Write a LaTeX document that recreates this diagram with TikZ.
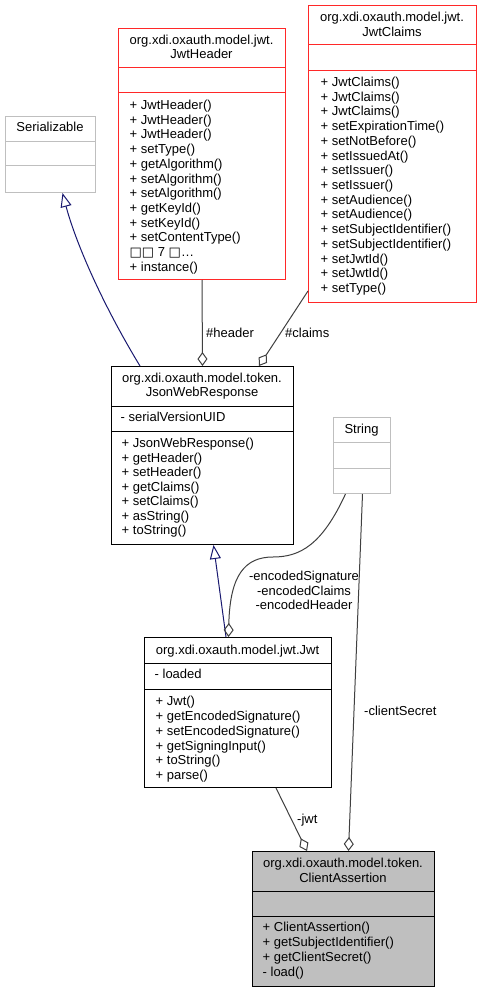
\documentclass[tikz,border=0pt]{standalone}
\usepackage{fontspec}
\setmainfont{Liberation Sans}
\newfontfamily\djv{DejaVu Sans}
\usetikzlibrary{arrows.meta}
\definecolor{redc}{RGB}{255,40,40}
\definecolor{greyc}{RGB}{191,191,191}
\definecolor{navyc}{RGB}{25,25,112}
\definecolor{edgec}{RGB}{64,64,64}
\definecolor{fillc}{RGB}{191,191,191}
\newcommand\fs{\fontsize{13}{15}\selectfont}
\newcommand\hsep[3]{\draw[#3, line width=1pt] ([yshift=-#2pt]#1.north west) -- ([yshift=-#2pt]#1.north east);}
\begin{document}
\begin{tikzpicture}[x=1pt,y=-1pt,
  box/.style={draw, line width=1pt, inner sep=0pt, anchor=north west, fill=white},
  txt/.style={inner sep=0pt, font=\fs, anchor=base west},
  ttl/.style={inner sep=0pt, font=\fs, anchor=base},
  lbl/.style={inner sep=0pt, font=\fs, anchor=base west},
  clbl/.style={inner sep=0pt, font=\fs, anchor=base},
  inh/.style={draw=navyc, line width=1pt, -{Triangle[open, length=14pt, width=11pt]}},
  agg/.style={draw=edgec, line width=1pt, -{Diamond[open, length=14pt, width=10pt]}}]
\useasboundingbox[fill=white] (0,0) rectangle (481,992);

% class boxes
\node[box, draw=redc, minimum width=167pt, minimum height=251pt] (jh) at (118,28) {};
\node[box, draw=redc, minimum width=168pt, minimum height=297pt] (jc) at (308,5) {};
\node[box, draw=greyc, minimum width=90pt, minimum height=76pt] (ser) at (5,116) {};
\node[box, draw=black, minimum width=182pt, minimum height=178pt] (jwr) at (111,366) {};
\node[box, draw=greyc, minimum width=57pt, minimum height=76pt] (str) at (333,417) {};
\node[box, draw=black, minimum width=187pt, minimum height=150pt] (jwt) at (144,637) {};
\node[box, draw=black, fill=fillc, minimum width=182pt, minimum height=135pt] (ca) at (252,851) {};

% separators
\hsep{jh}{40}{redc}\hsep{jh}{65}{redc}
\hsep{jc}{40}{redc}\hsep{jc}{66}{redc}
\hsep{ser}{25.5}{greyc}\hsep{ser}{50}{greyc}
\hsep{jwr}{40}{black}\hsep{jwr}{65}{black}
\hsep{str}{25}{greyc}\hsep{str}{51}{greyc}
\hsep{jwt}{26}{black}\hsep{jwt}{52}{black}
\hsep{ca}{40}{black}\hsep{ca}{65}{black}

% titles
\node[ttl] (jh-t1) at (201.5,44.6) {org.xdi.oxauth.model.jwt.};
\node[ttl] (jh-t2) at (201.5,58.6) {JwtHeader};
\node[ttl] (jc-t1) at (392,21.6) {org.xdi.oxauth.model.jwt.};
\node[ttl] (jc-t2) at (392,36.6) {JwtClaims};
\node[ttl] (ser-t) at (50,131.6) {Serializable};
\node[ttl] (str-t) at (361.5,433.6) {String};
\node[ttl] (jwr-t1) at (202,382.6) {org.xdi.oxauth.model.token.};
\node[ttl] (jwr-t2) at (202,396.6) {JsonWebResponse};
\node[ttl] (jwt-t) at (237.5,654.6) {org.xdi.oxauth.model.jwt.Jwt};
\node[ttl] (ca-t1) at (343,867.6) {org.xdi.oxauth.model.token.};
\node[ttl] (ca-t2) at (343,882.6) {ClientAssertion};

% attributes
\node[txt] (jwr-a) at (120.5,421.6) {- serialVersionUID};
\node[txt] (jwt-a) at (154.5,678.6) {- loaded};

% members
\foreach [count=\i from 0] \t in {+ JwtHeader(), + JwtHeader(), + JwtHeader(), + setType(), + getAlgorithm(), + setAlgorithm(), + setAlgorithm(), + getKeyId(), + setKeyId(), + setContentType(), {{\djv □□} 7 {\djv □}…}, + instance()}
  \node[txt] (jh-m\i) at (129.5,109.6+\i*14.7) {\t};
\foreach [count=\i from 0] \t in {+ JwtClaims(), + JwtClaims(), + JwtClaims(), + setExpirationTime(), + setNotBefore(), + setIssuedAt(), + setIssuer(), + setIssuer(), + setAudience(), + setAudience(), + setSubjectIdentifier(), + setSubjectIdentifier(), + setJwtId(), + setJwtId(), + setType()}
  \node[txt] (jc-m\i) at (320.5,86.6+\i*14.7) {\t};
\foreach [count=\i from 0] \t in {+ JsonWebResponse(), + getHeader(), + setHeader(), + getClaims(), + setClaims(), + asString(), + toString()}
  \node[txt] (jwr-m\i) at (121.5,447.6+\i*14.55) {\t};
\foreach [count=\i from 0] \t in {+ Jwt(), + getEncodedSignature(), + setEncodedSignature(), + getSigningInput(), + toString(), + parse()}
  \node[txt] (jwt-m\i) at (155.5,705.6+\i*14.8) {\t};
\foreach [count=\i from 0] \t in {+ ClientAssertion(), + getSubjectIdentifier(), + getClientSecret(), - load()}
  \node[txt] (ca-m\i) at (262.5,931.6+\i*15) {\t};

% connectors
\draw[inh] ([xshift=29pt]jwr.north west) .. controls (100,300) and (75,240) .. ([xshift=12pt]ser.south);
\draw[inh] ([xshift=-12pt]jwt.north) -- ([xshift=11pt]jwr.south);
\draw[agg] (jh.south) -- (jwr.north);
\draw[agg] ([yshift=12pt]jc.south west) -- ([xshift=148pt]jwr.north west);
\draw[agg] ([xshift=-16.5pt]str.south) .. controls (322,545) and (300,557) .. (273,557) .. controls (245,557) and (230,575) .. ([xshift=-9.5pt]jwt.north);
\draw[agg] ([xshift=132pt]jwt.south west) -- ([xshift=55pt]ca.north west);
\draw[agg] ([xshift=0.5pt]str.south) -- ([xshift=5pt]ca.north);

% connector labels
\node[lbl] (l-header) at (206,337.6) {\#header};
\node[lbl] (l-claims) at (285,337.6) {\#claims};
\node[clbl] (l-es) at (304,580.6) {-encodedSignature};
\node[clbl] (l-ec) at (304,595.1) {-encodedClaims};
\node[clbl] (l-eh) at (304,609.6) {-encodedHeader};
\node[lbl] (l-jwt) at (297,823.6) {-jwt};
\node[lbl] (l-cs) at (364,715.6) {-clientSecret};
\end{tikzpicture}
\end{document}
